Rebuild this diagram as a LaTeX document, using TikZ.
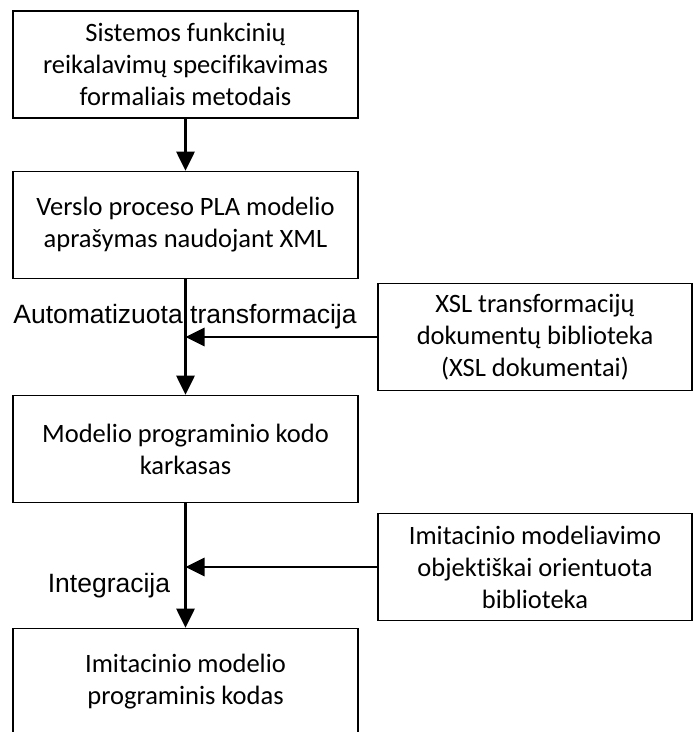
\documentclass[tikz,border=0pt]{standalone}
\usepackage{fontspec}
\setmainfont{Carlito}[Ligatures=NoCommon]
\newfontfamily\arialfont{Liberation Sans}
\usetikzlibrary{arrows.meta}

\begin{document}
\begin{tikzpicture}[x=1pt,y=-1pt,
    stepbox/.style={draw, line width=1.6pt, minimum width=345pt,
      minimum height=107pt, align=center, inner sep=0pt,
      font=\fontsize{26.5}{32}\selectfont},
    libbox/.style={stepbox, minimum width=314pt},
    flow/.style={line width=2.8pt, -{Triangle[width=18pt,length=19pt]}},
    caption/.style={inner sep=0pt, font=\arialfont\fontsize{26.5}{30}\selectfont}]

    \clip (0,0) rectangle (693,732);
    \useasboundingbox (0,0) rectangle (693,732);

    \node[stepbox] (spec) at (185.5,64.5) {Sistemos funkcinių\\reikalavimų specifikavimas\\formaliais metodais};
    \node[stepbox] (xml) at (185.5,225) {Verslo proceso PLA modelio\\aprašymas naudojant XML};
    \node[stepbox] (frame) at (185.5,449) {Modelio programinio kodo\\karkasas};
    \node[stepbox] (code) at (185.5,682) {Imitacinio modelio\\programinis kodas};

    \node[libbox] (xsl) at (535,337) {XSL transformacijų\\dokumentų biblioteka\\(XSL dokumentai)};
    \node[libbox] (oolib) at (535,567) {Imitacinio modeliavimo\\objektiškai orientuota\\biblioteka};

    \node[caption] (autotr) at (185,317) {Automatizuota transformacija};
    \node[caption] (integr) at (109,586) {Integracija};

    \coordinate (xslin) at (xml.south |- xsl.west);
    \coordinate (libin) at (frame.south |- oolib.west);

    \draw[flow] (spec) -- (xml);
    \draw[flow] (xml) -- (frame);
    \draw[flow] (frame) -- (code);

    \draw[flow] (xsl) -- (xslin);
    \draw[flow] (oolib) -- (libin);
  \end{tikzpicture}
\end{document}
